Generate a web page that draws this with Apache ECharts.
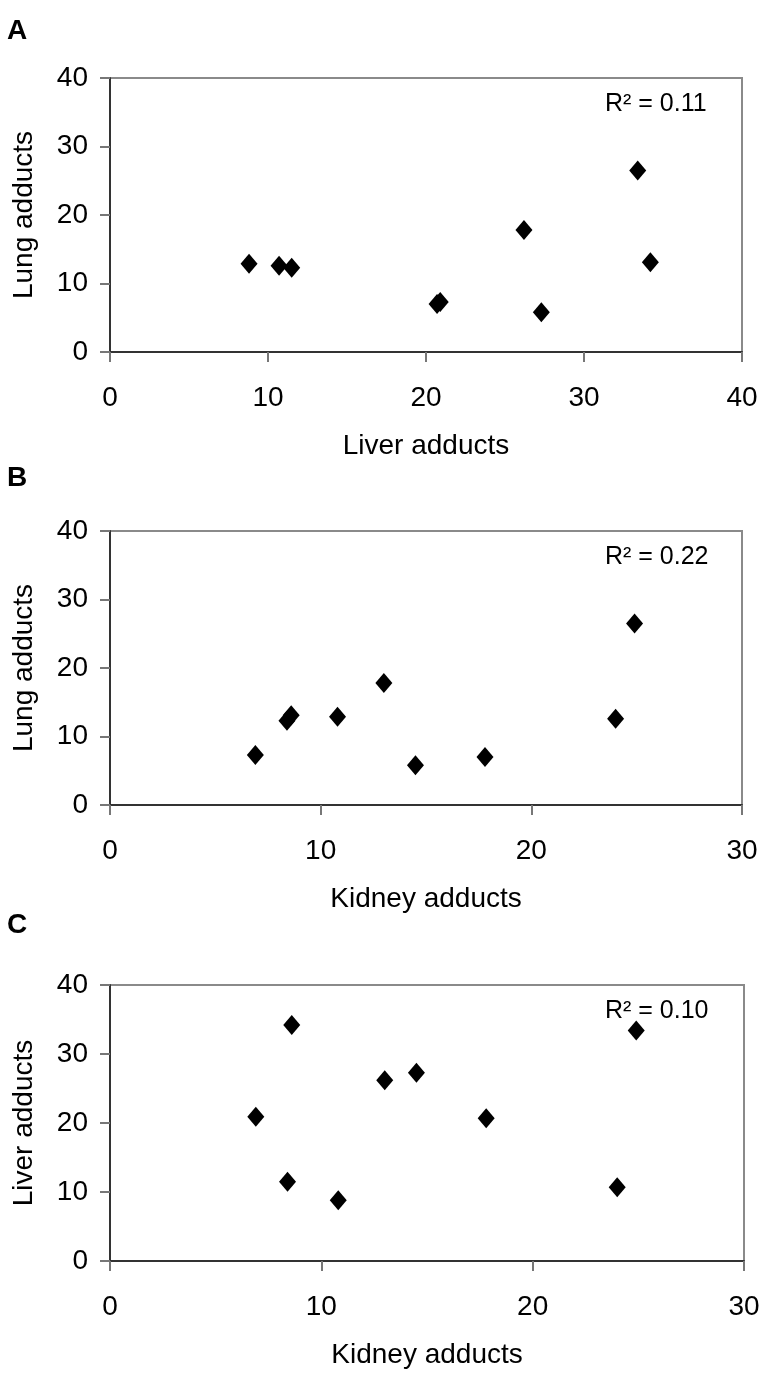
<!DOCTYPE html>
<html>
<head>
<meta charset="utf-8">
<script src="https://cdn.jsdelivr.net/npm/echarts@6/dist/echarts.min.js"></script>
<style>
html,body{margin:0;padding:0;background:#fff;}
#chart{width:765px;height:1376px;}
</style>
</head>
<body>
<div id="chart"></div>
<script>
// Per-animal adduct levels (same order in each array)
const kidney = [6.9, 8.4, 8.6, 10.8, 13.0, 14.5, 17.8, 24.0, 24.9];
const liver  = [20.9, 11.5, 34.2, 8.8, 26.2, 27.3, 20.7, 10.7, 33.4];
const lung   = [7.3, 12.3, 13.1, 12.9, 17.8, 5.8, 7.0, 12.6, 26.5];

const panelLetters = ['A', 'B', 'C'];
const xNames = ['Liver adducts', 'Kidney adducts', 'Kidney adducts'];
const yNames = ['Lung adducts', 'Lung adducts', 'Liver adducts'];
const xMax = [40, 30, 30];
const yMax = [40, 40, 40];
const r2Labels = ['R² = 0.11', 'R² = 0.22', 'R² = 0.10'];

const pairs = [
  liver.map((v, i) => [v, lung[i]]),
  kidney.map((v, i) => [v, lung[i]]),
  kidney.map((v, i) => [v, liver[i]])
];

const FONT = '"Liberation Sans", Arial, sans-serif';
const grids = [
  {left: 110, top: 78, width: 632, height: 274},
  {left: 110, top: 531, width: 632, height: 274},
  {left: 110, top: 985, width: 634, height: 276}
];
const letterTops = [17, 464, 911];

const option = {
  animation: false,
  backgroundColor: '#fff',
  grid: grids.map(g => Object.assign({show: true, borderColor: '#8a8a8a', borderWidth: 2, backgroundColor: 'transparent'}, g)),
  xAxis: grids.map((g, i) => ({
    type: 'value', gridIndex: i, min: 0, max: xMax[i], interval: 10,
    name: xNames[i], nameLocation: 'middle', nameGap: 80,
    nameTextStyle: {fontFamily: FONT, fontSize: 28, color: '#000'},
    axisLine: {show: true, onZero: false, lineStyle: {color: '#333', width: 2}},
    axisTick: {show: true, length: 10, lineStyle: {color: '#777', width: 2}},
    axisLabel: {margin: 32, fontFamily: FONT, fontSize: 28, color: '#000'},
    splitLine: {show: false}
  })),
  yAxis: grids.map((g, i) => ({
    type: 'value', gridIndex: i, min: 0, max: yMax[i], interval: 10,
    name: yNames[i], nameLocation: 'middle', nameGap: 72, nameRotate: 90,
    nameTextStyle: {fontFamily: FONT, fontSize: 28, color: '#000'},
    axisLine: {show: true, onZero: false, lineStyle: {color: '#333', width: 2}},
    axisTick: {show: true, length: 10, lineStyle: {color: '#777', width: 2}},
    axisLabel: {margin: 22, fontFamily: FONT, fontSize: 28, color: '#000'},
    splitLine: {show: false}
  })),
  series: pairs.map((d, i) => ({
    type: 'scatter', xAxisIndex: i, yAxisIndex: i,
    symbol: 'diamond', symbolSize: [17, 20],
    itemStyle: {color: '#000', opacity: 1},
    emphasis: {disabled: true},
    data: d
  })),
  graphic: [].concat(
    panelLetters.map((t, i) => ({
      type: 'text', left: 7, top: letterTops[i],
      style: {text: t, fontFamily: FONT, fontWeight: 'bold', fontSize: 28, fill: '#000'}
    })),
    r2Labels.map((t, i) => ({
      type: 'text', left: 605, top: grids[i].top + 14,
      style: {text: t, fontFamily: FONT, fontSize: 25, fill: '#000'}
    }))
  )
};

const chart = echarts.init(document.getElementById('chart'), null, {renderer: 'canvas'});
chart.setOption(option);
</script>
</body>
</html>
